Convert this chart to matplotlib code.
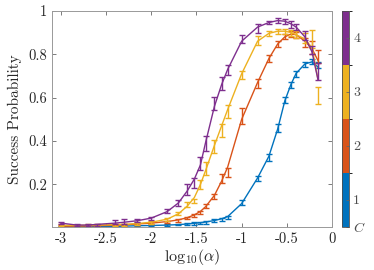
import numpy as np
import matplotlib
matplotlib.use("Agg")
import matplotlib.pyplot as plt
from matplotlib.colors import ListedColormap, BoundaryNorm
import matplotlib.cm as cm

plt.rcParams['mathtext.fontset'] = 'cm'

# alpha grid (x axis is log10 of it)
alpha = [0.001, 0.0015, 0.002, 0.0025, 0.004, 0.005, 0.007, 0.01, 0.015, 0.02,
         0.025, 0.03, 0.035, 0.04, 0.05, 0.06, 0.07, 0.1, 0.15, 0.2,
         0.25, 0.3, 0.35, 0.4, 0.5, 0.6, 0.7]

# C = 1 (blue)
p1 = [0.005, 0.005, 0.006, 0.006, 0.007, 0.008, 0.010, 0.010, 0.012, 0.015,
      0.018, 0.020, 0.022, 0.025, 0.035, 0.040, 0.050, 0.117, 0.228, 0.324,
      0.460, 0.590, 0.658, 0.708, 0.753, 0.765, 0.750]
e1 = [0.003, 0.003, 0.003, 0.003, 0.003, 0.003, 0.003, 0.003, 0.004, 0.004,
      0.004, 0.005, 0.005, 0.005, 0.006, 0.006, 0.007, 0.010, 0.012, 0.015,
      0.018, 0.015, 0.015, 0.015, 0.012, 0.012, 0.015]
f1 = [0.005, 0.005, 0.006, 0.006, 0.007, 0.008, 0.010, 0.011, 0.013, 0.015,
      0.018, 0.021, 0.024, 0.027, 0.034, 0.042, 0.052, 0.112, 0.230, 0.330,
      0.455, 0.585, 0.660, 0.712, 0.755, 0.765, 0.740]

# C = 2 (red)
p2 = [0.008, 0.008, 0.010, 0.010, 0.012, 0.013, 0.018, 0.022, 0.028, 0.035,
      0.045, 0.057, 0.070, 0.100, 0.143, 0.228, 0.255, 0.515, 0.665, 0.780,
      0.847, 0.880, 0.893, 0.888, 0.855, 0.830, 0.790]
e2 = [0.003, 0.003, 0.003, 0.003, 0.004, 0.004, 0.004, 0.005, 0.005, 0.006,
      0.006, 0.008, 0.008, 0.010, 0.012, 0.020, 0.020, 0.035, 0.020, 0.015,
      0.015, 0.012, 0.012, 0.015, 0.020, 0.030, 0.030]
f2 = [0.008, 0.008, 0.009, 0.010, 0.012, 0.014, 0.018, 0.022, 0.029, 0.037,
      0.047, 0.060, 0.076, 0.098, 0.150, 0.215, 0.280, 0.500, 0.670, 0.780,
      0.847, 0.880, 0.893, 0.890, 0.860, 0.825, 0.770]

# C = 3 (yellow)
p3 = [0.012, 0.010, 0.012, 0.013, 0.015, 0.015, 0.020, 0.025, 0.040, 0.066,
      0.108, 0.123, 0.200, 0.275, 0.375, 0.450, 0.535, 0.704, 0.862, 0.896,
      0.906, 0.906, 0.898, 0.890, 0.875, 0.870, 0.610]
e3 = [0.004, 0.004, 0.004, 0.004, 0.005, 0.005, 0.005, 0.006, 0.007, 0.008,
      0.010, 0.010, 0.020, 0.030, 0.030, 0.030, 0.030, 0.020, 0.020, 0.012,
      0.012, 0.012, 0.015, 0.015, 0.025, 0.040, 0.040]
f3 = [0.012, 0.011, 0.012, 0.013, 0.015, 0.016, 0.020, 0.026, 0.040, 0.065,
      0.100, 0.140, 0.200, 0.265, 0.380, 0.470, 0.545, 0.710, 0.860, 0.896,
      0.906, 0.906, 0.900, 0.890, 0.870, 0.830, 0.680]

# C = 4 (purple)
p4 = [0.022, 0.012, 0.013, 0.015, 0.028, 0.030, 0.033, 0.043, 0.077, 0.115,
      0.178, 0.207, 0.297, 0.390, 0.573, 0.665, 0.727, 0.870, 0.919, 0.946,
      0.955, 0.952, 0.938, 0.925, 0.885, 0.820, 0.720]
e4 = [0.005, 0.004, 0.005, 0.005, 0.010, 0.010, 0.008, 0.006, 0.008, 0.015,
      0.025, 0.025, 0.030, 0.035, 0.030, 0.030, 0.025, 0.020, 0.020, 0.008,
      0.012, 0.012, 0.015, 0.015, 0.020, 0.020, 0.040]
f4 = [0.022, 0.013, 0.013, 0.016, 0.022, 0.026, 0.033, 0.045, 0.075, 0.115,
      0.170, 0.225, 0.290, 0.395, 0.560, 0.660, 0.730, 0.860, 0.925, 0.946,
      0.955, 0.952, 0.940, 0.925, 0.880, 0.810, 0.680]

c_labels = ['1', '2', '3', '4']
colors = ['#0072BD', '#D95319', '#EDB120', '#7E2F8E']

x = np.log10(alpha)
xticks = [-3, -2.5, -2, -1.5, -1, -0.5, 0]
xticklabels = ['-3', '-2.5', '-2', '-1.5', '-1', '-0.5', '0']
yticks = [0.2, 0.4, 0.6, 0.8, 1]
yticklabels = ['0.2', '0.4', '0.6', '0.8', '1']

fig = plt.figure(figsize=(3.74, 2.70), dpi=100)
ax = fig.add_axes([0.140, 0.160, 0.748, 0.800])

series = [(p1, e1, f1), (p2, e2, f2), (p3, e3, f3), (p4, e4, f4)]
for (p, e, f), col in zip(series, colors):
    ax.plot(x, f, color=col, lw=1.0)
    ax.errorbar(x, p, yerr=e, fmt='none', ecolor=col, elinewidth=1.0,
                capsize=2, capthick=1.0)

ax.set_xlim(-3.093, 0)
ax.set_ylim(0.005, 1)
ax.set_xticks(xticks)
ax.set_xticklabels(xticklabels, fontfamily='cmr10', fontsize=10.5)
ax.set_yticks(yticks)
ax.set_yticklabels(yticklabels, fontfamily='cmr10', fontsize=10.5)
ax.tick_params(direction='in', top=True, right=True, length=3, width=0.6,
               color='0.4', labelcolor='0.15', pad=4)
for s in ax.spines.values():
    s.set_color('0.6')
    s.set_linewidth(0.7)
ax.set_xlabel(r'$\mathrm{log}_{10}(\alpha)$', fontsize=11.5, color='0.15',
              labelpad=1)
ax.set_ylabel('Success Probability', fontfamily='cmr10', fontsize=11,
              color='0.15', labelpad=4)

# discrete colorbar
cax = fig.add_axes([0.914, 0.160, 0.019, 0.800])
cmap = ListedColormap(colors)
norm = BoundaryNorm([0.5, 1.5, 2.5, 3.5, 4.5], cmap.N)
cb = fig.colorbar(cm.ScalarMappable(norm=norm, cmap=cmap), cax=cax)
cb.set_ticks([0.5, 1, 2, 3, 4])
cb.set_ticklabels(['$C$'] + c_labels)
for lab in cax.get_yticklabels():
    lab.set_fontfamily('cmr10')
cax.tick_params(direction='in', length=2, width=0.6, color='0.4',
                labelcolor='0.3', labelsize=10, pad=3)
cb.outline.set_edgecolor('0.3')
cb.outline.set_linewidth(0.6)

fig.savefig('out.png', dpi=100)
